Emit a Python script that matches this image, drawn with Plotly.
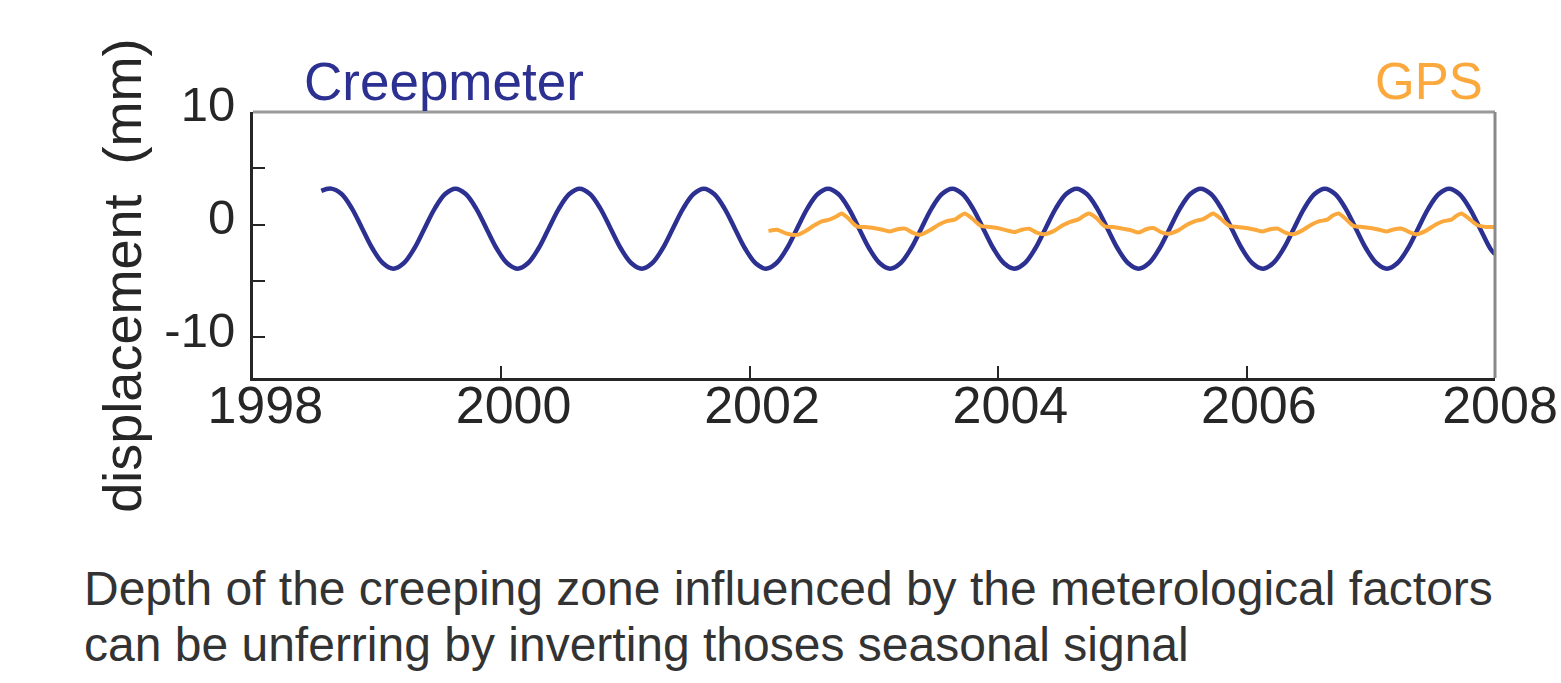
import plotly.graph_objects as go

# ---------------- data ----------------
creep_t = [
    1998.55, 1998.63, 1998.713, 1998.797, 1998.88, 1998.963,
    1999.047, 1999.13, 1999.213, 1999.297, 1999.38, 1999.463, 1999.547, 1999.63, 1999.713, 1999.797, 1999.88, 1999.963,
    2000.047, 2000.13, 2000.213, 2000.297, 2000.38, 2000.463, 2000.547, 2000.63, 2000.713, 2000.797, 2000.88, 2000.963,
    2001.047, 2001.13, 2001.213, 2001.297, 2001.38, 2001.463, 2001.547, 2001.63, 2001.713, 2001.797, 2001.88, 2001.963,
    2002.047, 2002.13, 2002.213, 2002.297, 2002.38, 2002.463, 2002.547, 2002.63, 2002.713, 2002.797, 2002.88, 2002.963,
    2003.047, 2003.13, 2003.213, 2003.297, 2003.38, 2003.463, 2003.547, 2003.63, 2003.713, 2003.797, 2003.88, 2003.963,
    2004.047, 2004.13, 2004.213, 2004.297, 2004.38, 2004.463, 2004.547, 2004.63, 2004.713, 2004.797, 2004.88, 2004.963,
    2005.047, 2005.13, 2005.213, 2005.297, 2005.38, 2005.463, 2005.547, 2005.63, 2005.713, 2005.797, 2005.88, 2005.963,
    2006.047, 2006.13, 2006.213, 2006.297, 2006.38, 2006.463, 2006.547, 2006.63, 2006.713, 2006.797, 2006.88, 2006.963,
    2007.047, 2007.13, 2007.213, 2007.297, 2007.38, 2007.463, 2007.547, 2007.63, 2007.713, 2007.797, 2007.88, 2007.963,
    2008.0,
]
creep_v = [
    3.0, 3.2, 2.72, 1.43, -0.35, -2.13,
    -3.42, -3.9, -3.42, -2.13, -0.35, 1.43, 2.72, 3.2, 2.72, 1.43, -0.35, -2.13,
    -3.42, -3.9, -3.42, -2.13, -0.35, 1.43, 2.72, 3.2, 2.72, 1.43, -0.35, -2.13,
    -3.42, -3.9, -3.42, -2.13, -0.35, 1.43, 2.72, 3.2, 2.72, 1.43, -0.35, -2.13,
    -3.42, -3.9, -3.42, -2.13, -0.35, 1.43, 2.72, 3.2, 2.72, 1.43, -0.35, -2.13,
    -3.42, -3.9, -3.42, -2.13, -0.35, 1.43, 2.72, 3.2, 2.72, 1.43, -0.35, -2.13,
    -3.42, -3.9, -3.42, -2.13, -0.35, 1.43, 2.72, 3.2, 2.72, 1.43, -0.35, -2.13,
    -3.42, -3.9, -3.42, -2.13, -0.35, 1.43, 2.72, 3.2, 2.72, 1.43, -0.35, -2.13,
    -3.42, -3.9, -3.42, -2.13, -0.35, 1.43, 2.72, 3.2, 2.72, 1.43, -0.35, -2.13,
    -3.42, -3.9, -3.42, -2.13, -0.35, 1.43, 2.72, 3.2, 2.72, 1.43, -0.35, -2.13,
    -2.6,
]

gps_t = [
    2002.15, 2002.22, 2002.30, 2002.38, 2002.45, 2002.52, 2002.58, 2002.64, 2002.70, 2002.74, 2002.79, 2002.86, 2002.93,
    2003.00, 2003.07, 2003.13, 2003.19, 2003.25, 2003.31, 2003.37, 2003.45, 2003.52, 2003.58, 2003.65, 2003.69, 2003.73, 2003.79, 2003.86, 2003.93,
    2004.00, 2004.07, 2004.13, 2004.19, 2004.25, 2004.31, 2004.37, 2004.45, 2004.52, 2004.58, 2004.65, 2004.69, 2004.73, 2004.79, 2004.86, 2004.93,
    2005.00, 2005.07, 2005.13, 2005.19, 2005.25, 2005.31, 2005.37, 2005.45, 2005.52, 2005.58, 2005.65, 2005.69, 2005.73, 2005.79, 2005.86, 2005.93,
    2006.00, 2006.07, 2006.13, 2006.19, 2006.25, 2006.31, 2006.37, 2006.45, 2006.52, 2006.58, 2006.65, 2006.69, 2006.74, 2006.79, 2006.86, 2006.93,
    2007.00, 2007.07, 2007.13, 2007.19, 2007.25, 2007.31, 2007.37, 2007.45, 2007.52, 2007.58, 2007.65, 2007.69, 2007.73, 2007.79, 2007.86, 2007.93,
    2008.00,
]
gps_v = [
    -0.55, -0.45, -0.8, -0.9, -0.55, -0.05, 0.3, 0.45, 0.75, 1.0, 0.6, -0.15, -0.2,
    -0.3, -0.45, -0.6, -0.4, -0.35, -0.7, -0.9, -0.5, 0.0, 0.3, 0.45, 0.75, 1.0, 0.55, -0.1, -0.2,
    -0.3, -0.5, -0.65, -0.45, -0.35, -0.7, -0.85, -0.55, -0.05, 0.25, 0.5, 0.8, 1.0, 0.6, -0.15, -0.2,
    -0.35, -0.5, -0.7, -0.4, -0.3, -0.65, -0.8, -0.5, 0.0, 0.3, 0.5, 0.75, 1.0, 0.55, -0.1, -0.2,
    -0.3, -0.45, -0.6, -0.4, -0.35, -0.7, -0.85, -0.5, 0.0, 0.3, 0.45, 0.8, 1.0, 0.6, -0.1, -0.2,
    -0.3, -0.45, -0.6, -0.4, -0.35, -0.65, -0.85, -0.5, 0.0, 0.3, 0.45, 0.8, 1.0, 0.55, -0.05, -0.2,
    -0.2,
]

x_ticks = [1998, 2000, 2002, 2004, 2006, 2008]
x_ticktext = ["\u00a01998", "\u00a02000", "\u00a02002", "\u00a02004", "\u00a02006", "2008"]
y_ticks = [-10, -5, 0, 5, 10]
y_ticktext = ["-10", "", "0", "", "10"]

CREEP_COLOR = "#2B3091"
GPS_COLOR = "#FBA93C"
FONT = "Liberation Sans, Arial, Helvetica, sans-serif"
DARK = "#262626"

fig = go.Figure()
fig.add_trace(go.Scatter(x=creep_t, y=creep_v, mode="lines",
                         line=dict(color=CREEP_COLOR, width=4.5, shape="spline", smoothing=1.0),
                         showlegend=False, hoverinfo="skip"))
fig.add_trace(go.Scatter(x=gps_t, y=gps_v, mode="lines",
                         line=dict(color=GPS_COLOR, width=4, shape="spline", smoothing=0.6),
                         showlegend=False, hoverinfo="skip"))

fig.update_layout(
    width=1561, height=683,
    margin=dict(l=253, r=66, t=112, b=305),
    plot_bgcolor="white", paper_bgcolor="white",
    font=dict(family=FONT, color=DARK),
    xaxis=dict(range=[1998, 2008], tickvals=x_ticks, ticktext=x_ticktext,
               automargin=False,
               ticks="inside", ticklen=12, tickwidth=2, tickcolor=DARK,
               showline=True, linecolor=DARK, linewidth=3,
               showgrid=False, zeroline=False,
               ticklabelshift=5, ticklabelstandoff=-20, ticklabeloverflow="allow",
               tickfont=dict(size=52, color=DARK, family=FONT)),
    yaxis=dict(range=[-13.6, 10], tickvals=y_ticks, ticktext=y_ticktext,
               automargin=False,
               ticks="inside", ticklen=12, tickwidth=2, tickcolor=DARK,
               showline=True, linecolor=DARK, linewidth=3,
               showgrid=False, zeroline=False, ticklabelstandoff=5, ticklabelshift=-8,
               tickfont=dict(size=49, color=DARK, family=FONT)),
    shapes=[
        dict(type="line", xref="x domain", yref="y domain", x0=0, x1=1, y0=1, y1=1,
             line=dict(color="#9a9a9a", width=3)),
        dict(type="line", xref="x domain", yref="y domain", x0=1, x1=1, y0=0, y1=1,
             line=dict(color="#8a8a8a", width=3)),
    ],
    annotations=[
        dict(text="Creepmeter", x=1999.54, xref="x", y=1.1165, yref="paper",
             xanchor="center", yanchor="middle", showarrow=False,
             font=dict(size=53, color=CREEP_COLOR, family=FONT)),
        dict(text="GPS", x=2007.47, xref="x", y=1.1165, yref="paper",
             xanchor="center", yanchor="middle", showarrow=False,
             font=dict(size=51, color=GPS_COLOR, family=FONT)),
        dict(text="displacement\u00a0\u00a0(mm)", x=-0.105, xref="paper", y=0.383, yref="paper",
             xanchor="center", yanchor="middle", showarrow=False, textangle=-90,
             font=dict(size=54, color=DARK, family=FONT)),
        dict(text="Depth of the creeping zone influenced by the meterological factors",
             x=-0.1375, xref="paper", y=-0.79, yref="paper",
             xanchor="left", yanchor="middle", showarrow=False,
             font=dict(size=48, color="#333333", family=FONT)),
        dict(text="can be unferring by inverting thoses seasonal signal",
             x=-0.1375, xref="paper", y=-1.0, yref="paper",
             xanchor="left", yanchor="middle", showarrow=False,
             font=dict(size=48, color="#333333", family=FONT)),
    ],
)

fig.write_html("out.html")
